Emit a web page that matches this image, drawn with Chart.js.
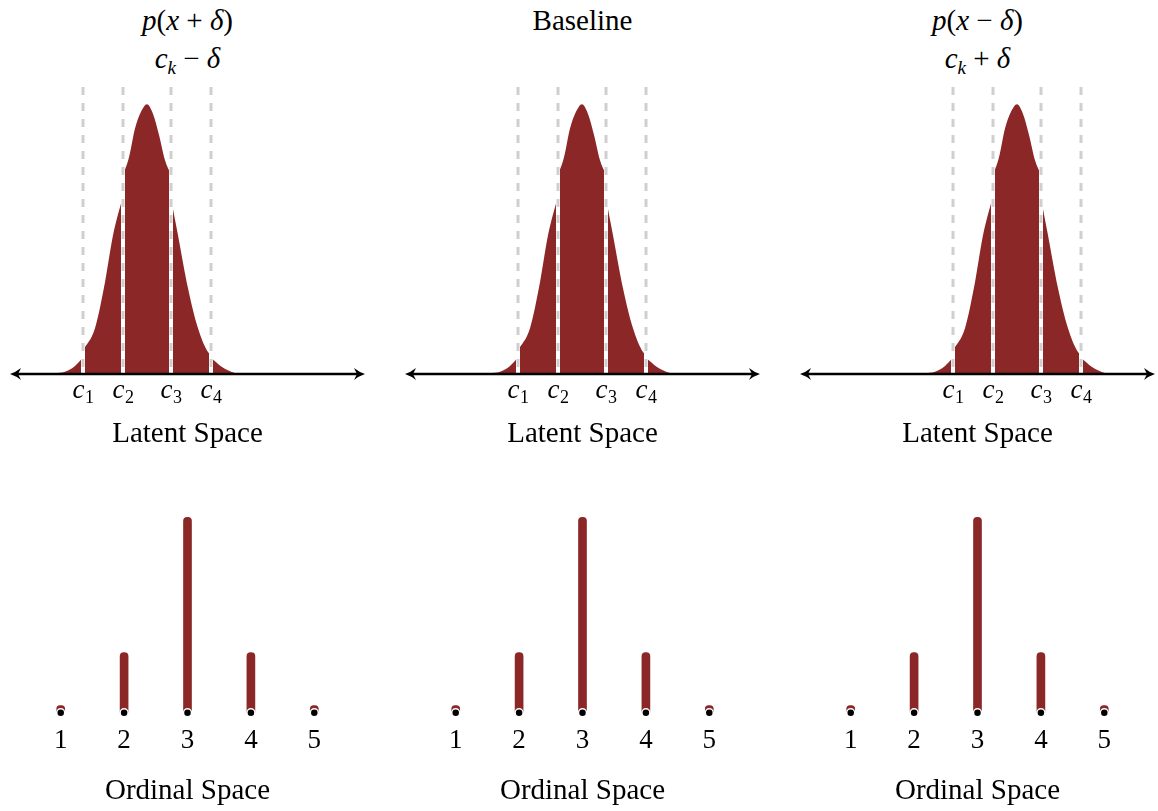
<!DOCTYPE html>
<html>
<head>
<meta charset="utf-8">
<script src="https://cdn.jsdelivr.net/npm/chart.js@4.4.0/dist/chart.umd.min.js"></script>
<style>
  html, body { margin: 0; padding: 0; background: #fff; overflow: hidden; }
  body { width: 1158px; height: 811px; position: relative; font-family: "Liberation Serif", serif; color: #000; }
  canvas { position: absolute; }
  .title { position: absolute; width: 355px; text-align: center; font-size: 29px; line-height: 1; white-space: nowrap; }
  .title sub { font-size: 19px; vertical-align: -6px; line-height: 0; }
</style>
</head>
<body>
<div class="title" style="left:10px;top:6px"><i>p</i>(<i>x</i> + <i>δ</i>)</div>
<div class="title" style="left:10px;top:44px"><i>c<sub>k</sub></i> − <i>δ</i></div>
<div class="title" style="left:405px;top:6px">Baseline</div>
<div class="title" style="left:800px;top:6px"><i>p</i>(<i>x</i> − <i>δ</i>)</div>
<div class="title" style="left:800px;top:44px"><i>c<sub>k</sub></i> + <i>δ</i></div>

<canvas id="lat0" width="395" height="460" style="left:0;top:0"></canvas>
<canvas id="lat1" width="395" height="460" style="left:395px;top:0"></canvas>
<canvas id="lat2" width="395" height="460" style="left:790px;top:0"></canvas>
<canvas id="ord0" width="395" height="341" style="left:0;top:470px"></canvas>
<canvas id="ord1" width="395" height="341" style="left:395px;top:470px"></canvas>
<canvas id="ord2" width="395" height="341" style="left:790px;top:470px"></canvas>

<script>
const RED = "#8b2727";

// thresholds c1..c4 on the latent axis, and the shift applied per panel (delta = 1)
const thresholds = [-1.6, -0.6, 0.6, 1.6];
const thresholdNames = ["1", "2", "3", "4"];
const shifts = [-1, 0, 1];

// latent density, one piece per interval between thresholds
const tailLeftX = [-2.45, -2.3, -2.05, -1.8, -1.6];
const tailLeftY = [0, 0.001, 0.004, 0.015, 0.03];
const lowX = [-1.6, -1.3, -1.05, -0.85, -0.6];
const lowY = [0.044, 0.085, 0.17, 0.257, 0.33];
const midX = [-0.6, -0.45, -0.3, -0.15, 0, 0.15, 0.3, 0.45, 0.6];
const midY = [0.369, 0.402, 0.455, 0.486, 0.5, 0.482, 0.443, 0.396, 0.369];
const highX = [0.6, 0.775, 1.025, 1.275, 1.525, 1.6];
const highY = [0.326, 0.257, 0.159, 0.085, 0.041, 0.037];
const tailRightX = [1.6, 1.875, 2.2, 2.45];
const tailRightY = [0.03, 0.013, 0.002, 0];

// ordinal probabilities
const levels = [1, 2, 3, 4, 5];
const probs = [0.022, 0.185, 0.6, 0.185, 0.022];

const X_MIN = -4.425, X_MAX = 4.45, Y_TOP = 0.532;

const axisArrow = {
  id: "axisArrow",
  afterDatasetsDraw(chart) {
    const { ctx, chartArea: a, scales: { y } } = chart;
    const y0 = y.getPixelForValue(0);
    ctx.save();
    ctx.strokeStyle = "#000";
    ctx.lineWidth = 2.4;
    ctx.beginPath();
    ctx.moveTo(a.left + 5, y0);
    ctx.lineTo(a.right - 5, y0);
    ctx.stroke();
    ctx.fillStyle = "#000";
    for (const [tip, dir] of [[a.left, 1], [a.right, -1]]) {
      ctx.beginPath();
      ctx.moveTo(tip, y0);
      ctx.quadraticCurveTo(tip + dir * 6, y0 - 2, tip + dir * 11, y0 - 6);
      ctx.lineTo(tip + dir * 8, y0);
      ctx.lineTo(tip + dir * 11, y0 + 6);
      ctx.quadraticCurveTo(tip + dir * 6, y0 + 2, tip, y0);
      ctx.fill();
    }
    ctx.restore();
  }
};

const latentLabels = {
  id: "latentLabels",
  afterDraw(chart, args, opts) {
    const { ctx, chartArea: a, scales: { x, y } } = chart;
    const base = y.getPixelForValue(0);
    ctx.save();
    ctx.fillStyle = "#000";
    ctx.textBaseline = "alphabetic";
    opts.cuts.forEach((c, i) => {
      const px = x.getPixelForValue(c);
      ctx.font = 'italic 27px "Liberation Serif"';
      const w1 = ctx.measureText("c").width;
      ctx.font = '18px "Liberation Serif"';
      const w2 = ctx.measureText(thresholdNames[i]).width;
      const left = px - (w1 + w2) / 2;
      ctx.font = 'italic 27px "Liberation Serif"';
      ctx.fillText("c", left, base + 24);
      ctx.font = '18px "Liberation Serif"';
      ctx.fillText(thresholdNames[i], left + w1 + 0.5, base + 29);
    });
    ctx.font = '29px "Liberation Serif"';
    ctx.textAlign = "center";
    ctx.fillText("Latent Space", (a.left + a.right) / 2, base + 68);
    ctx.restore();
  }
};

function latentChart(id, shift) {
  const piece = (xs, ys) => xs.map((v, i) => ({ x: v + shift, y: ys[i] }));
  const cuts = thresholds.map(c => c + shift);
  const datasets = [];
  [[tailLeftX, tailLeftY], [lowX, lowY], [midX, midY], [highX, highY], [tailRightX, tailRightY]]
    .forEach(([xs, ys]) => {
      datasets.push({
        data: piece(xs, ys),
        backgroundColor: RED,
        borderColor: "transparent",
        borderWidth: 0,
        fill: "origin",
        pointRadius: 0,
        cubicInterpolationMode: "monotone",
        order: 3
      });
    });
  cuts.forEach(c => {
    const seg = [{ x: c, y: Y_TOP }, { x: c, y: 0 }];
    datasets.push({ data: seg, borderColor: "#fff", borderWidth: 4, pointRadius: 0, fill: false, order: 2 });
    datasets.push({ data: seg, borderColor: "#cfcfcf", borderWidth: 3, borderDash: [8, 8], pointRadius: 0, fill: false, order: 1 });
  });

  new Chart(document.getElementById(id), {
    type: "line",
    data: { datasets },
    options: {
      responsive: false,
      animation: false,
      events: [],
      layout: { padding: { left: 10, right: 30, top: 87, bottom: 86 } },
      scales: {
        x: { type: "linear", min: X_MIN, max: X_MAX, display: false },
        y: { min: 0, max: Y_TOP, display: false }
      },
      plugins: {
        legend: { display: false },
        tooltip: { enabled: false },
        latentLabels: { cuts }
      }
    },
    plugins: [axisArrow, latentLabels]
  });
}

function ordinalChart(id) {
  new Chart(document.getElementById(id), {
    type: "bar",
    data: {
      datasets: [
        {
          type: "scatter",
          data: levels.map(k => ({ x: k, y: 0 })),
          pointRadius: 4,
          backgroundColor: "#000",
          borderColor: "#fff",
          borderWidth: 1.5,
          clip: false,
          order: 0
        },
        {
          data: levels.map((k, i) => ({ x: k, y: probs[i] })),
          backgroundColor: RED,
          barThickness: 8,
          borderRadius: { topLeft: 4, topRight: 4 },
          borderSkipped: "start",
          order: 1
        }
      ]
    },
    options: {
      responsive: false,
      animation: false,
      events: [],
      layout: { padding: { left: 10, right: 30, top: 31, bottom: 0 } },
      scales: {
        x: {
          type: "linear",
          min: 0.2,
          max: 5.8,
          offset: false,
          grid: { display: false },
          border: { display: false },
          ticks: {
            stepSize: 1,
            includeBounds: false,
            color: "#000",
            padding: 4,
            font: { family: "Liberation Serif", size: 27 }
          },
          title: {
            display: true,
            text: "Ordinal Space",
            color: "#000",
            padding: { top: 13, bottom: 2 },
            font: { family: "Liberation Serif", size: 29 }
          }
        },
        y: { min: 0, max: 0.65, display: false }
      },
      plugins: { legend: { display: false }, tooltip: { enabled: false } }
    }
  });
}

shifts.forEach((s, i) => latentChart("lat" + i, s));
shifts.forEach((s, i) => ordinalChart("ord" + i));
</script>
</body>
</html>
